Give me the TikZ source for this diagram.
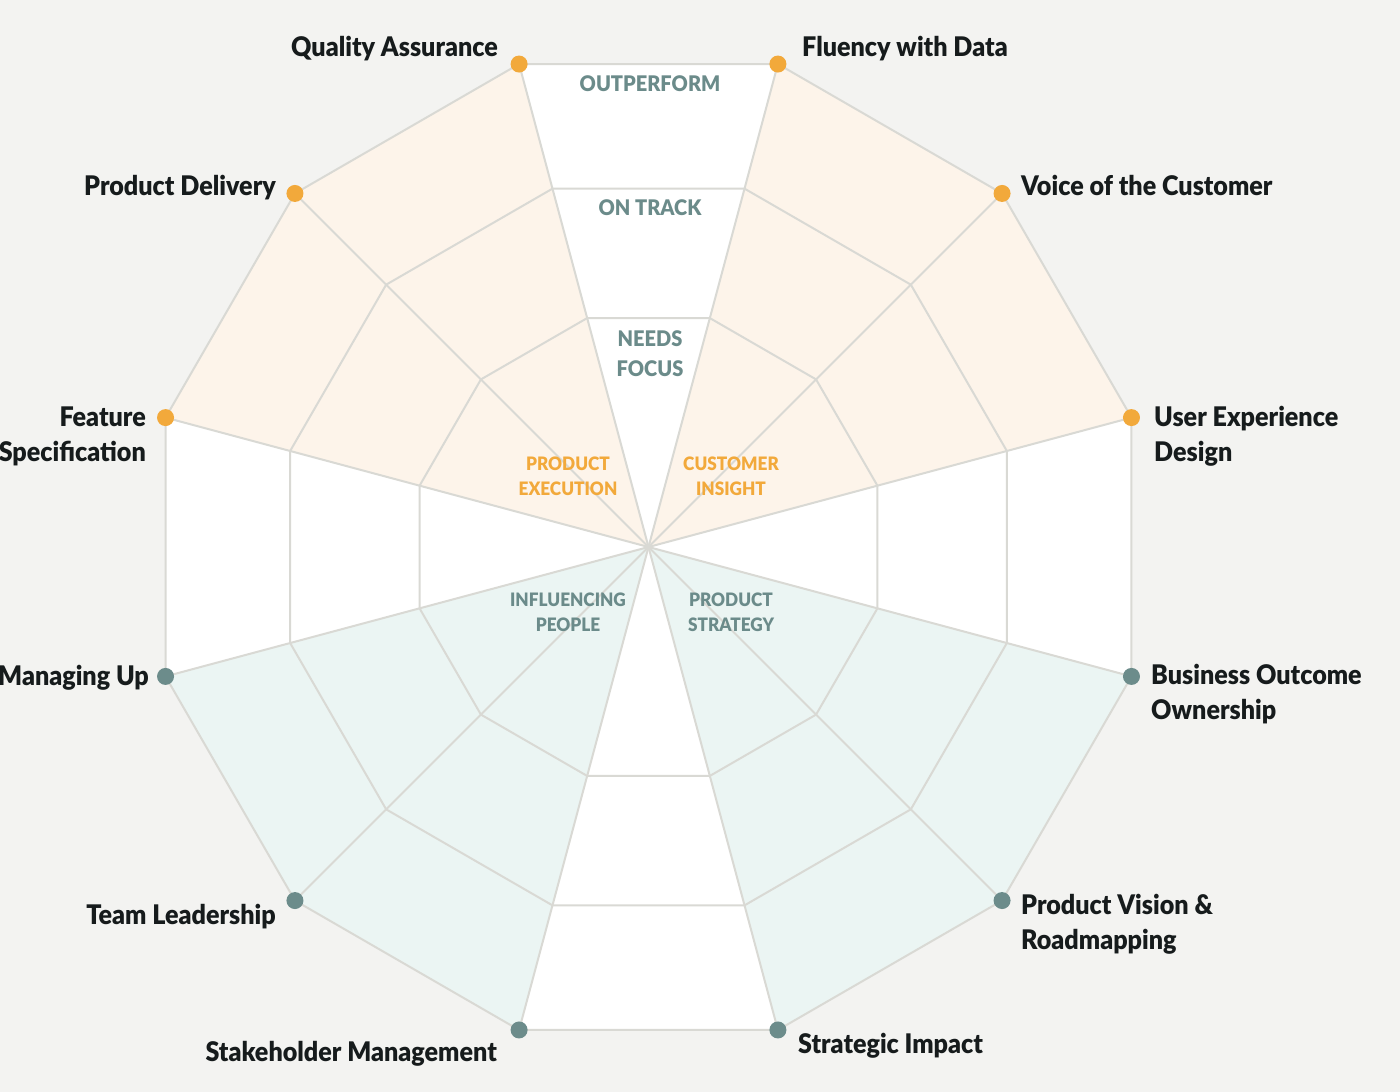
\documentclass[tikz,border=0pt]{standalone}
\usepackage{fontspec}
\setmainfont{Lato}[FakeStretch=0.93, BoldFont={Lato Black}, BoldFeatures={FakeStretch=0.93}]
\definecolor{bg}{HTML}{F3F3F1}
\definecolor{gridc}{HTML}{D9D9D4}
\definecolor{ofill}{HTML}{FDF4EA}
\definecolor{tfill}{HTML}{EBF5F3}
\definecolor{odot}{HTML}{F2A93B}
\definecolor{tdot}{HTML}{6C8C8B}
\definecolor{labc}{HTML}{161B1C}
\definecolor{levc}{HTML}{6B8B8A}
\tikzset{
  grid/.style={draw=gridc, line width=2pt, line join=round},
  odotn/.style={circle, fill=odot, minimum size=17pt, inner sep=0},
  tdotn/.style={circle, fill=tdot, minimum size=17pt, inner sep=0},
  lab/.style={text=labc, inner sep=0, font=\fontsize{27}{35}\selectfont\bfseries},
  lev/.style={text=levc, inner sep=0, align=center, font=\fontsize{21.5}{30}\selectfont\bfseries},
  grp/.style={inner sep=0, align=center, font=\fontsize{18.5}{25}\selectfont\bfseries},
}
\begin{document}
\begin{tikzpicture}[x=1pt,y=-1pt]
\fill[bg] (0,0) rectangle (1400,1092);
\useasboundingbox (0,0) rectangle (1400,1092);
\begin{scope}[shift={(648.5,547)},y=1pt]
  \coordinate (c) at (0,0);
  \foreach \a/\n in {15/ux,45/voc,75/fd,105/qa,135/pd,165/fs,195/mu,225/tl,255/sm,285/si,315/pv,345/bo}
    \coordinate (v\n) at (\a:500);
  \fill[white] (15:500) foreach \a in {45,75,...,345} {-- (\a:500)} -- cycle;
  \fill[ofill] (c) -- (vqa) -- (vpd) -- (vfs) -- cycle;
  \fill[ofill] (c) -- (vux) -- (vvoc) -- (vfd) -- cycle;
  \fill[tfill] (c) -- (vmu) -- (vtl) -- (vsm) -- cycle;
  \fill[tfill] (c) -- (vsi) -- (vpv) -- (vbo) -- cycle;
  \foreach \r in {237,371}
    \draw[grid] (15:\r) foreach \a in {45,75,...,345} {-- (\a:\r)} -- cycle;
  \draw[grid] (vux) -- (vvoc) -- (vfd) -- (vqa) -- (vpd) -- (vfs) -- (vmu) -- (vtl) -- (vsm) -- (vsi) -- (vpv) -- (vbo) -- cycle;
  \foreach \n in {ux,voc,fd,qa,pd,fs,mu,tl,sm,si,pv,bo}
    \draw[grid] (c) -- (v\n);
  \foreach \n in {ux,voc,fd,qa,pd,fs}
    \node[odotn] (d\n) at (v\n) {};
  \foreach \n in {mu,tl,sm,si,pv,bo}
    \node[tdotn] (d\n) at (v\n) {};
\end{scope}
% outer labels
\node[lab, anchor=base east] (lqa) at (498,56) {Quality Assurance};
\node[lab, anchor=base west] (lfd) at (802,56) {Fluency with Data};
\node[lab, anchor=base east] (lpd) at (276,195) {Product Delivery};
\node[lab, anchor=base west] (lvoc) at (1021,195) {Voice of the Customer};
\node[lab, anchor=east, align=right] (lfs) at (146,436) {Feature\\Specification};
\node[lab, anchor=west, align=left] (lux) at (1154,436) {User Experience\\Design};
\node[lab, anchor=base east] (lmu) at (149,685) {Managing Up};
\node[lab, anchor=west, align=left] (lbo) at (1151,694) {Business Outcome\\Ownership};
\node[lab, anchor=base east] (ltl) at (276,924) {Team Leadership};
\node[lab, anchor=west, align=left] (lpv) at (1021,924) {Product Vision \&\\Roadmapping};
\node[lab, anchor=base east] (lsm) at (497,1061) {Stakeholder Management};
\node[lab, anchor=base west] (lsi) at (798,1053) {Strategic Impact};
% level labels
\node[lev] (out) at (650,84) {OUTPERFORM};
\node[lev] (ont) at (650,208) {ON TRACK};
\node[lev] (nf) at (650,354) {NEEDS\\FOCUS};
% group labels
\node[grp, text=odot] (pe) at (568,476) {PRODUCT\\EXECUTION};
\node[grp, text=odot] (ci) at (731,476) {CUSTOMER\\INSIGHT};
\node[grp, text=levc] (ip) at (568,612) {INFLUENCING\\PEOPLE};
\node[grp, text=levc] (ps) at (731,612) {PRODUCT\\STRATEGY};
\end{tikzpicture}
\end{document}
